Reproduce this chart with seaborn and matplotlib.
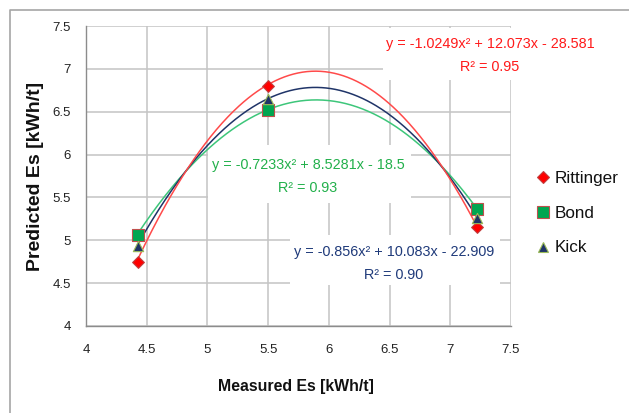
import numpy as np
import pandas as pd
import matplotlib
matplotlib.use("Agg")
import matplotlib.pyplot as plt
import seaborn as sns
from matplotlib import font_manager
from matplotlib.patches import Rectangle
from matplotlib.lines import Line2D

# ---------------- data ----------------
measured = [4.43, 5.50, 7.22]
rittinger = [4.75, 6.80, 5.15]
bond = [5.06, 6.52, 5.36]
kick = [4.93, 6.65, 5.26]
series_names = ["Rittinger", "Bond", "Kick"]

coef_rittinger = [-1.0249, 12.073, -28.581]
coef_bond = [-0.7233, 8.5281, -18.5]
coef_kick = [-0.856, 10.083, -22.909]
r2_rittinger = "0.95"
r2_bond = "0.93"
r2_kick = "0.90"

x_ticks = [4, 4.5, 5, 5.5, 6, 6.5, 7, 7.5]
y_ticks = [4, 4.5, 5, 5.5, 6, 6.5, 7, 7.5]
x_title = "Measured Es [kWh/t]"
y_title = "Predicted Es [kWh/t]"

# ---------------- style ----------------
sns.set_style("white")
names = {f.name for f in font_manager.fontManager.ttflist}
if "Liberation Sans Narrow" in names:
    NARROW = "Liberation Sans Narrow"
    k = 1.0
else:
    NARROW = "Liberation Sans"
    k = 0.82
plt.rcParams["font.family"] = [NARROW, "DejaVu Sans"]

W, H = 629, 413
fig = plt.figure(figsize=(W / 100, H / 100), dpi=100)
fig.patch.set_facecolor("white")
L, R, T, B = 86, 511, 26, 326
ax = fig.add_axes([L / W, 1 - B / H, (R - L) / W, (B - T) / H])

def fx(px):
    return px / W

def fy(py):
    return 1 - py / H

# figure border (top/left visible)
fig.add_artist(Line2D([fx(10), fx(10), fx(W + 5)], [fy(H + 5), fy(10), fy(10)],
                      transform=fig.transFigure, color="#A6A6A6", lw=1.2))

# ---------------- data frames ----------------
df = pd.DataFrame({
    "measured": measured * 3,
    "predicted": rittinger + bond + kick,
    "model": [series_names[0]] * 3 + [series_names[1]] * 3 + [series_names[2]] * 3,
})

coefs = {"Rittinger": coef_rittinger, "Bond": coef_bond, "Kick": coef_kick}
curve_colors = {"Rittinger": "#FF4A4A", "Bond": "#3DC67A", "Kick": "#1F3468"}
xs = np.linspace(min(measured), max(measured), 300)
curves = []
for name in ["Bond", "Kick", "Rittinger"]:
    a, b, c = coefs[name]
    curves.append(pd.DataFrame({"x": xs, "y": np.polyval([a, b, c], xs), "model": name}))
curves = pd.concat(curves)

for name in ["Bond", "Kick", "Rittinger"]:
    sub = curves[curves["model"] == name]
    sns.lineplot(data=sub, x="x", y="y", ax=ax, color=curve_colors[name],
                 lw=1.1, legend=False, zorder=3, sort=False)

marker_styles = {
    "Rittinger": dict(marker="D", s=36, color="#FF0000", edgecolor="#C04040"),
    "Bond": dict(marker="s", s=75, color="#00A650", edgecolor="#C0504D"),
    "Kick": dict(marker="^", s=55, color="#1F3468", edgecolor="#9BBB59"),
}
for name in series_names:
    sub = df[df["model"] == name]
    st = marker_styles[name]
    sns.scatterplot(data=sub, x="measured", y="predicted", ax=ax, marker=st["marker"],
                    s=st["s"], color=st["color"], edgecolor=st["edgecolor"], linewidth=0.8,
                    label=name, zorder=4)

# ---------------- axes ----------------
ax.set_xlim(4, 7.5)
ax.set_ylim(4, 7.5)
ax.set_xticks(x_ticks)
ax.set_yticks(y_ticks)
ax.set_xticklabels([f"{t:g}" for t in x_ticks])
ax.set_yticklabels([f"{t:g}" for t in y_ticks])
ax.set_axisbelow(True)
ax.grid(True, color="#C4C4C4", lw=1.1)
for s in ["top", "right"]:
    ax.spines[s].set_visible(False)
for s in ["left", "bottom"]:
    ax.spines[s].set_color("#8C8C8C")
    ax.spines[s].set_linewidth(1.0)
ax.tick_params(axis="both", direction="out", length=4, width=0.9, color="#8C8C8C",
               labelsize=9.5, labelcolor="#222222")
ax.tick_params(axis="x", pad=9)
ax.tick_params(axis="y", pad=7)

ax.set_xlabel(x_title, fontsize=14 * k, fontweight="bold", color="#111111", va="center")
ax.xaxis.set_label_coords((296 - L) / (R - L), (B - 387) / (B - T))
ax.set_ylabel(y_title, fontsize=14, fontweight="bold", color="#111111", va="center",
              family=["Liberation Sans", "DejaVu Sans"])
ax.yaxis.set_label_coords((36 - L) / (R - L), 0.5)

# ---------------- white label boxes ----------------
for (x0, y0, x1, y1) in [(383, 28, 602, 80), (208, 145, 411, 203), (290, 235, 500, 285)]:
    ax.add_patch(Rectangle((fx(x0), fy(y1)), fx(x1) - fx(x0), fy(y0) - fy(y1),
                           transform=fig.transFigure, facecolor="white", edgecolor="none",
                           zorder=1, clip_on=False))

def eq(c):
    a, b, cc = c
    sign = "-" if cc < 0 else "+"
    return f"y = {a:g}x\u00b2 + {b:g}x {sign} {abs(cc):g}"

labels = [
    (coef_rittinger, r2_rittinger, "#FF1A1A", 490, 44, 67),
    (coef_bond, r2_bond, "#22B04B", 308, 165, 188),
    (coef_kick, r2_kick, "#1F3A7A", 394, 252, 275),
]
for c, r2, col, cx, y1, y2 in labels:
    fig.text(fx(cx), fy(y1), eq(c), color=col, fontsize=12.6 * k, ha="center", va="center", zorder=5)
    fig.text(fx(cx), fy(y2), f"R\u00b2 = {r2}", color=col, fontsize=12.6 * k, ha="center",
             va="center", zorder=5)

# ---------------- legend ----------------
ax.legend_.remove()
handles = [Line2D([], [], ls="none", marker="D", markersize=6, markerfacecolor="#FF0000",
                  markeredgecolor="#C04040", markeredgewidth=0.8),
           Line2D([], [], ls="none", marker="s", markersize=8, markerfacecolor="#00A650",
                  markeredgecolor="#C0504D", markeredgewidth=0.8),
           Line2D([], [], ls="none", marker="^", markersize=7.5, markerfacecolor="#1F3468",
                  markeredgecolor="#9BBB59", markeredgewidth=0.8)]
fs_leg = 15 * k
em = fs_leg * 100 / 72
fig.legend(handles, series_names, loc="center left",
           bbox_to_anchor=(fx(543 - 0.3 * em), fy(213)), frameon=False,
           fontsize=fs_leg, handlelength=0.6, handletextpad=0.37, borderpad=0,
           borderaxespad=0, labelspacing=1.17, labelcolor="#111111")

fig.savefig("out.png", dpi=100, facecolor="white")
